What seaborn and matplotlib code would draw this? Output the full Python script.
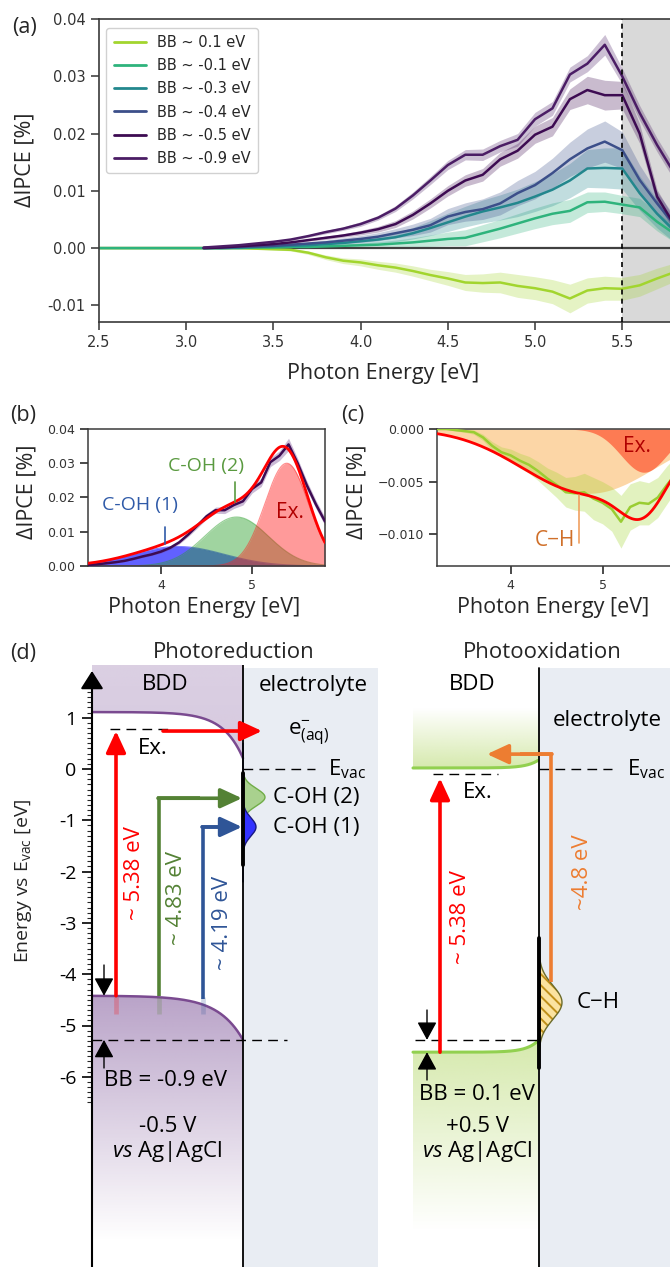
import numpy as np
import pandas as pd
import matplotlib
matplotlib.use("Agg")
import matplotlib.pyplot as plt
import seaborn as sns
from matplotlib.colors import to_rgb
from matplotlib.lines import Line2D
from matplotlib.ticker import FixedLocator, FixedFormatter

nan = np.nan

# ---------------- (a) measured dIPCE spectra ----------------
photon_energy = [2.5, 2.6, 2.7, 2.8, 2.9, 3.0, 3.1, 3.2, 3.3, 3.4, 3.5, 3.6, 3.7, 3.8,
                 3.9, 4.0, 4.1, 4.2, 4.3, 4.4, 4.5, 4.6, 4.7, 4.8, 4.9, 5.0, 5.1,
                 5.2, 5.3, 5.4, 5.5, 5.6, 5.7, 5.8]

bb_p01 = [0, 0, 0, 0, 0, 0, 0, 0, 0,
          -0.0001, -0.0002, -0.0003, -0.0008, -0.0016, -0.0022, -0.0025, -0.0030, -0.0034,
          -0.0040, -0.0047, -0.0053, -0.0060, -0.0061, -0.0060, -0.0066, -0.0070, -0.0076,
          -0.0088, -0.0074, -0.0070, -0.0071, -0.0065, -0.0053, -0.0042]
err_p01 = [0, 0, 0, 0, 0, 0, 0, 0, 0,
           0.0001, 0.0001, 0.0002, 0.0003, 0.0004, 0.0005, 0.0006, 0.0007, 0.0008,
           0.0009, 0.0010, 0.0012, 0.0014, 0.0016, 0.0018, 0.0020, 0.0020, 0.0021,
           0.0025, 0.0022, 0.0021, 0.0020, 0.0019, 0.0018, 0.0016]

bb_m01 = [0, 0, 0, 0, 0, 0, 0, 0, 0,
          0.0001, 0.0001, 0.0002, 0.0002, 0.0003, 0.0004, 0.0005, 0.0006, 0.0008,
          0.0010, 0.0013, 0.0016, 0.0018, 0.0026, 0.0034, 0.0043, 0.0052, 0.0060,
          0.0065, 0.0080, 0.0081, 0.0076, 0.0071, 0.0046, 0.0025]
err_m01 = [0, 0, 0, 0, 0, 0, 0, 0, 0,
           0.0001, 0.0001, 0.0001, 0.0002, 0.0002, 0.0003, 0.0004, 0.0005, 0.0006,
           0.0008, 0.0010, 0.0012, 0.0014, 0.0015, 0.0016, 0.0017, 0.0018, 0.0019,
           0.0020, 0.0018, 0.0017, 0.0016, 0.0016, 0.0016, 0.0015]

bb_m03 = [nan, nan, nan, nan, nan, nan,
          0.0000, 0.0000, 0.0001, 0.0002, 0.0003, 0.0004, 0.0005, 0.0007, 0.0009, 0.0012,
          0.0015, 0.0019, 0.0026, 0.0035, 0.0045, 0.0055, 0.0064, 0.0071, 0.0079, 0.0090,
          0.0102, 0.0118, 0.0139, 0.0140, 0.0139, 0.0096, 0.0060, 0.0030]
err_m03 = [nan, nan, nan, nan, nan, nan,
           0, 0, 0.0001, 0.0001, 0.0001, 0.0002, 0.0002, 0.0003, 0.0004, 0.0005,
           0.0006, 0.0008, 0.0010, 0.0013, 0.0016, 0.0018, 0.0020, 0.0022, 0.0024, 0.0026,
           0.0028, 0.0030, 0.0033, 0.0035, 0.0036, 0.0030, 0.0025, 0.0020]

bb_m04 = [nan, nan, nan, nan, nan, nan,
          0.0000, 0.0001, 0.0002, 0.0003, 0.0004, 0.0006, 0.0008, 0.0010, 0.0013, 0.0016,
          0.0020, 0.0026, 0.0032, 0.0040, 0.0055, 0.0063, 0.0068, 0.0078, 0.0096, 0.0110,
          0.0131, 0.0155, 0.0174, 0.0186, 0.0171, 0.0119, 0.0078, 0.0040]
err_m04 = [nan, nan, nan, nan, nan, nan,
           0, 0.0001, 0.0001, 0.0001, 0.0002, 0.0002, 0.0003, 0.0004, 0.0005, 0.0006,
           0.0007, 0.0008, 0.0010, 0.0012, 0.0014, 0.0016, 0.0018, 0.0020, 0.0022, 0.0024,
           0.0026, 0.0030, 0.0034, 0.0036, 0.0032, 0.0026, 0.0020, 0.0016]

bb_m05 = [nan, nan, nan, nan, nan, nan,
          0.0000, 0.0001, 0.0003, 0.0005, 0.0007, 0.0010, 0.0014, 0.0018, 0.0022, 0.0027,
          0.0033, 0.0042, 0.0058, 0.0078, 0.0100, 0.0118, 0.0128, 0.0155, 0.0170, 0.0198,
          0.0212, 0.0260, 0.0276, 0.0267, 0.0267, 0.0200, 0.0090, 0.0040]
err_m05 = [nan, nan, nan, nan, nan, nan,
           0, 0, 0.0001, 0.0001, 0.0001, 0.0002, 0.0002, 0.0003, 0.0003, 0.0004,
           0.0005, 0.0006, 0.0007, 0.0008, 0.0009, 0.0010, 0.0011, 0.0012, 0.0013, 0.0015,
           0.0016, 0.0018, 0.0024, 0.0026, 0.0024, 0.0017, 0.0012, 0.0010]

bb_m09 = [nan, nan, nan, nan, nan, nan,
          0.0001, 0.0003, 0.0005, 0.0008, 0.0011, 0.0015, 0.0021, 0.0028, 0.0034, 0.0042,
          0.0053, 0.0069, 0.0092, 0.0118, 0.0145, 0.0163, 0.0163, 0.0178, 0.0189, 0.0225,
          0.0244, 0.0303, 0.0322, 0.0355, 0.0300, 0.0236, 0.0180, 0.0130]
err_m09 = [nan, nan, nan, nan, nan, nan,
           0, 0, 0, 0.0001, 0.0001, 0.0002, 0.0002, 0.0003, 0.0003, 0.0004,
           0.0004, 0.0005, 0.0006, 0.0007, 0.0008, 0.0009, 0.0010, 0.0010, 0.0011, 0.0012,
           0.0012, 0.0013, 0.0014, 0.0018, 0.0014, 0.0013, 0.0012, 0.0012]

series_labels = ["BB ~ 0.1 eV", "BB ~ -0.1 eV", "BB ~ -0.3 eV",
                 "BB ~ -0.4 eV", "BB ~ -0.5 eV", "BB ~ -0.9 eV"]
series_colors = ["#a2d52e", "#2eb37c", "#23878d", "#3c4f8a", "#3d0b52", "#4b1d65"]
series_values = [bb_p01, bb_m01, bb_m03, bb_m04, bb_m05, bb_m09]
series_errors = [err_p01, err_m01, err_m03, err_m04, err_m05, err_m09]

# ---------------- (b), (c) Gaussian fit components ----------------
fit_b_labels = ["C-OH (1)", "C-OH (2)", "Ex."]
fit_b_centers = [4.19, 4.83, 5.38]
fit_b_amps = [0.0057, 0.0143, 0.0300]
fit_b_widths = [0.50, 0.35, 0.24]
fit_b_colors = ["#0000ff", "#2ca02c", "#ff2020"]

fit_c_labels = ["C\u2212H", "Ex."]
fit_c_centers = [4.85, 5.45]
fit_c_amps = [-0.0061, -0.0041]
fit_c_widths = [0.72, 0.25]
fit_c_colors = ["#f9a63a", "#ff3010"]

# ---------------- (d) energy levels [eV vs Evac] ----------------
red_cb, red_cb_surf, red_vb, red_vb_surf = 1.11, 0.21, -4.42, -5.28
red_exciton = 0.78
red_arrow_red = [-4.42, 0.74]        # 5.38 eV excitation
red_arrow_green = [-4.42, -0.57]     # 4.83 eV -> C-OH (2)
red_arrow_blue = [-4.48, -1.13]      # 4.19 eV -> C-OH (1)
red_state_centers = [-0.55, -1.13]
red_state_widths = [0.17, 0.18]
red_state_amps = [22, 13]
ox_cb, ox_cb_surf, ox_vb, ox_vb_surf = 0.02, 0.18, -5.52, -5.28
ox_exciton = -0.10
ox_arrow_red = [-5.52, -0.18]
ox_arrow_orange = [-4.15, 0.29]
ox_state_center, ox_state_width, ox_state_amp = -4.55, 0.33, 23

# ---------------- style ----------------
sns.set_theme(style="ticks")
plt.rcParams['font.family'] = ['Open Sans', 'DejaVu Sans']
plt.rcParams['mathtext.fontset'] = 'custom'
plt.rcParams['mathtext.rm'] = 'Open Sans'
plt.rcParams['mathtext.it'] = 'Open Sans:italic'
plt.rcParams['axes.unicode_minus'] = True

W, H = 670, 1267
fig = plt.figure(figsize=(W / 100, H / 100), dpi=100)
fig.patch.set_facecolor('white')


def rect(l, t, r, b):
    return [l / W, 1 - b / H, (r - l) / W, (b - t) / H]


LBL = 15.5
spine_c = '#3a3a3a'

# ================= (a) =================
ax = fig.add_axes(rect(99, 19, 670, 322))
E = np.array(photon_energy)
rows = []
for lab, vals in zip(series_labels, series_values):
    for e, v in zip(photon_energy, vals):
        rows.append((lab, e, v))
df = pd.DataFrame(rows, columns=['series', 'E', 'v'])
ax.axvspan(5.5, 6.0, color='#d9d9d9', lw=0, zorder=0)
for c, vals, errs in zip(series_colors, series_values, series_errors):
    v = np.array(vals, float); er = np.array(errs, float)
    ax.fill_between(E, v - er, v + er, color=c, alpha=0.28, lw=0, zorder=1.5)
ax.axhline(0, color='#404040', lw=1.6, zorder=1.7)
sns.lineplot(data=df, x='E', y='v', hue='series', hue_order=series_labels,
             palette=dict(zip(series_labels, series_colors)), ax=ax, lw=1.8,
             legend=False, errorbar=None, zorder=2)
ax.axvline(5.5, color='black', lw=1.2, ls=(0, (3, 2.5)), zorder=3)
ax.set_xlim(2.5, 5.774)
ax.set_ylim(-0.0129, 0.0400)
ax.set_xticks([2.5, 3.0, 3.5, 4.0, 4.5, 5.0, 5.5])
ax.set_yticks([-0.01, 0.0, 0.01, 0.02, 0.03, 0.04])
ax.set_yticklabels(['-0.01', '0.00', '0.01', '0.02', '0.03', '0.04'])
ax.set_xticklabels(['2.5', '3.0', '3.5', '4.0', '4.5', '5.0', '5.5'])
ax.tick_params(labelsize=10.5, labelfontfamily='DejaVu Sans', colors='#333333', width=1.1)
ax.spines['right'].set_visible(False)
for s in ['left', 'top', 'bottom']:
    ax.spines[s].set_color(spine_c); ax.spines[s].set_linewidth(1.2)
ax.set_xlabel('Photon Energy [eV]', fontsize=LBL)
ax.set_ylabel('\u0394IPCE [%]', fontsize=LBL)
ax.xaxis.set_label_coords(0.497, -0.135)
ax.yaxis.set_label_coords(-0.112, 0.535)
handles = [Line2D([0], [0], color=c, lw=2) for c in series_colors]
leg = ax.legend(handles, series_labels, loc='upper left', frameon=True, fancybox=True,
                prop={'family': 'DejaVu Sans', 'size': 10.5}, labelspacing=0.56,
                handlelength=2.2, borderpad=0.5, framealpha=0.9, edgecolor='#cccccc',
                bbox_to_anchor=(0.0, 0.995))

# ================= (b) =================
axb = fig.add_axes(rect(88, 429, 325, 566))
xg = np.linspace(3.2, 5.8, 400)
comps = []
for c0, a0, w0, col in zip(fit_b_centers, fit_b_amps, fit_b_widths, fit_b_colors):
    g = a0 * np.exp(-(xg - c0) ** 2 / (2 * w0 ** 2))
    comps.append(g)
    axb.fill_between(xg, 0, g, color=col, alpha=0.45 if col != "#0000ff" else 0.62, lw=0, zorder=1)
    axb.plot(xg, g, color=col, alpha=0.5, lw=0.8, zorder=1)
v9 = np.array(bb_m09, float); e9 = np.array(err_m09, float)
axb.fill_between(E, v9 - e9, v9 + e9, color='#6a3d8a', alpha=0.35, lw=0, zorder=2)
sns.lineplot(x=E, y=v9, ax=axb, color='#3d0b52', lw=1.8, zorder=3)
sns.lineplot(x=xg, y=np.sum(comps, axis=0), ax=axb, color='#ff0000', lw=2.0, zorder=4)
axb.set_xlim(3.2, 5.8); axb.set_ylim(0, 0.04)
axb.set_xticks([4, 5]); axb.set_yticks([0, 0.01, 0.02, 0.03, 0.04])
axb.set_yticklabels(['0.00', '0.01', '0.02', '0.03', '0.04'])
axb.tick_params(labelsize=9, labelfontfamily='DejaVu Sans', colors='#333333')
for s in axb.spines.values():
    s.set_color(spine_c); s.set_linewidth(1.1)
axb.set_xlabel('Photon Energy [eV]', fontsize=LBL)
axb.set_ylabel('\u0394IPCE [%]', fontsize=LBL)
axb.xaxis.set_label_coords(0.49, -0.226)
axb.yaxis.set_label_coords(-0.215, 0.54)
axb.plot([4.04, 4.04], [0.0065, 0.0115], color='#2f5aa8', lw=1.2, zorder=5)
axb.text(3.77, 0.0178, fit_b_labels[0], color='#2f5aa8', ha='center', va='center', fontsize=14)
axb.plot([4.81, 4.81], [0.0186, 0.0245], color='#5a9a40', lw=1.2, zorder=5)
axb.text(4.50, 0.0293, fit_b_labels[1], color='#5a9a40', ha='center', va='center', fontsize=14)
axb.text(5.42, 0.0155, fit_b_labels[2], color='#b00000', ha='center', va='center', fontsize=15)

# ================= (c) =================
axc = fig.add_axes(rect(437, 429, 670, 566))
ccomps = []
for c0, a0, w0, col in zip(fit_c_centers, fit_c_amps, fit_c_widths, fit_c_colors):
    g = a0 * np.exp(-(xg - c0) ** 2 / (2 * w0 ** 2))
    ccomps.append(g)
    axc.fill_between(xg, 0, g, color=col, alpha=0.45 if col == "#f9a63a" else 0.55, lw=0, zorder=1)
v1 = np.array(bb_p01, float); e1 = np.array(err_p01, float)
axc.fill_between(E, v1 - e1, v1 + e1, color='#a2d52e', alpha=0.3, lw=0, zorder=2)
sns.lineplot(x=E, y=v1, ax=axc, color='#9acd32', lw=1.8, zorder=3)
sns.lineplot(x=xg, y=np.sum(ccomps, axis=0), ax=axc, color='#ff0000', lw=2.0, zorder=4)
axc.set_xlim(3.2, 5.733); axc.set_ylim(-0.0130, 0.0)
axc.set_xticks([4, 5]); axc.set_yticks([-0.010, -0.005, 0.0])
axc.set_yticklabels(['\u22120.010', '\u22120.005', '0.000'])
axc.tick_params(labelsize=9, labelfontfamily='DejaVu Sans', colors='#333333')
axc.spines['right'].set_visible(False)
for s in ['left', 'top', 'bottom']:
    axc.spines[s].set_color(spine_c); axc.spines[s].set_linewidth(1.1)
axc.set_xlabel('Photon Energy [eV]', fontsize=LBL)
axc.set_ylabel('\u0394IPCE [%]', fontsize=LBL)
axc.xaxis.set_label_coords(0.498, -0.226)
axc.yaxis.set_label_coords(-0.30, 0.54)
axc.plot([4.74, 4.74], [-0.0063, -0.0108], color='#f0a060', lw=1.2, zorder=5)
axc.text(4.48, -0.0106, fit_c_labels[0], color='#d0702a', ha='center', va='center', fontsize=15)
axc.text(5.37, -0.0017, fit_c_labels[1], color='#b00000', ha='center', va='center', fontsize=15)

# ================= (d) schematic =================
Y0, SC = 769.0, 51.3   # pixel row of Evac, pixels per eV


def ev(py):
    return (Y0 - py) / SC


E_TOP, E_BOT = ev(665), ev(1267)
axd = fig.add_axes(rect(92, 665, 670, 1267))
axd.set_xlim(92, 670); axd.set_ylim(E_BOT, E_TOP)
for s in axd.spines.values():
    s.set_visible(False)
axd.set_facecolor('none')

XA, XIL, XELL, XB2, XIR, XE = 92, 243, 378, 413, 539, 670

# electrolyte backgrounds
axd.fill_between([XIL, XELL], E_BOT, ev(668), color='#e9edf3', lw=0, zorder=0)
axd.fill_between([XIR, XE], E_BOT, ev(668), color='#e9edf3', lw=0, zorder=0)


def grad_fill(x, lower, upper, color, a_top, a_bot, e_top, e_bot, z=1):
    poly = axd.fill_between(x, lower, upper, facecolor='none', edgecolor='none', zorder=z)
    n = 256
    rgba = np.zeros((n, 2, 4))
    rgba[..., :3] = to_rgb(color)
    rgba[..., 3] = np.linspace(a_top, a_bot, n)[:, None]
    im = axd.imshow(rgba, extent=[x[0], x[-1], e_bot, e_top], origin='upper',
                    aspect='auto', zorder=z, interpolation='bilinear')
    im.set_clip_path(poly.get_paths()[0], transform=axd.transData)


# left (photoreduction) bands
xl = np.linspace(XA, XIL, 300)
cb_l = red_cb - (red_cb - red_cb_surf) * np.exp((xl - XIL) / 20.0)
vb_l = red_vb - (red_vb - red_vb_surf) * np.exp((xl - XIL) / 25.0)
grad_fill(xl, cb_l, np.full_like(xl, E_TOP), '#8e6aa6', 0.32, 0.36, E_TOP, red_cb_surf)
grad_fill(xl, np.full_like(xl, E_BOT), vb_l, '#8e6aa6', 0.62, 0.0, red_vb, -9.2)
axd.plot(xl, cb_l, color='#7a4a90', lw=1.8, zorder=3)
axd.plot(xl, vb_l, color='#7a4a90', lw=1.8, zorder=3)

# right (photooxidation) bands
xr = np.linspace(XB2, XIR - 1, 300)
cb_r = ox_cb + (ox_cb_surf - ox_cb) * np.exp((xr - XIR) / 12.0)
vb_r = ox_vb + (ox_vb_surf - ox_vb) * np.exp((xr - XIR) / 12.0)
grad_fill(xr, cb_r, np.full_like(xr, ev(708)), '#b4d86a', 0.0, 0.55, ev(708), ox_cb)
grad_fill(xr, np.full_like(xr, E_BOT), vb_r, '#b4d86a', 0.55, 0.0, ox_vb_surf, -9.0)
axd.plot(xr, cb_r, color='#92d050', lw=2.2, zorder=3)
axd.plot(xr, vb_r, color='#92d050', lw=2.2, zorder=3)

# interface lines
axd.plot([XIL, XIL], [E_BOT, E_TOP], color='black', lw=1.3, zorder=4)
axd.plot([XIR, XIR], [E_BOT, ev(668)], color='black', lw=1.3, zorder=4)
axd.plot([XIL, XIL], [-0.08, -1.87], color='black', lw=2.8, zorder=4)
axd.plot([XIR, XIR], [-3.3, -5.83], color='black', lw=2.8, zorder=4)

# surface states
Es = np.linspace(-2.2, 0.5, 400)
for c0, w0, a0, fc, ec in zip(red_state_centers, red_state_widths, red_state_amps,
                              ['#a9d18e', '#3333ff'], ['#70ad47', '#1a1a80']):
    prof = XIL + a0 * np.exp(-(Es - c0) ** 2 / (2 * w0 ** 2))
    axd.fill_betweenx(Es, XIL, prof, facecolor=fc, edgecolor='none', zorder=3)
    axd.plot(prof, Es, color=ec, lw=1.0, zorder=3)
Eh = np.linspace(-5.6, -3.5, 400)
prof = XIR + ox_state_amp * np.exp(-(Eh - ox_state_center) ** 2 / (2 * ox_state_width ** 2))
plt.rcParams['hatch.linewidth'] = 1.4
axd.fill_betweenx(Eh, XIR, prof, facecolor='#fbe3a0', edgecolor='#c0901a', hatch='\\\\\\', lw=0, zorder=3)
axd.plot(prof, Eh, color='#6b6b2a', lw=1.0, zorder=3)

# dashed reference lines
dash = dict(color='black', lw=1.0, ls=(0, (7, 4.5)), zorder=4)
axd.plot([110, 173], [red_exciton, red_exciton], **dash)
axd.plot([XIL, 315], [0, 0], **dash)
axd.plot([XA, 287], [red_vb_surf, red_vb_surf], **dash)
axd.plot([433, 498], [ox_exciton, ox_exciton], **dash)
axd.plot([XIR, 612], [0, 0], **dash)
axd.plot([415, XIR], [ox_vb_surf, ox_vb_surf], **dash)


def arrow(x0, y0, x1, y1, color, lw=2.6, hl=0.65, hw=0.3, ms=20, z=6):
    axd.annotate('', xy=(x1, y1), xytext=(x0, y0),
                 arrowprops=dict(arrowstyle=f'-|>,head_length={hl},head_width={hw}',
                                 color=color, lw=lw, shrinkA=0, shrinkB=0,
                                 mutation_scale=ms), zorder=z)


# faded arrow tails inside valence band
for xx, col in [(116, '#ff0000'), (159, '#548235'), (203, '#2f5597')]:
    axd.plot([xx, xx], [red_vb - 0.02, red_vb - 0.35], color=col, lw=3.4, alpha=0.22,
             solid_capstyle='butt', zorder=4)

# left arrows
arrow(116, red_arrow_red[0], 116, red_arrow_red[1], '#ff0000')
arrow(163, 0.74, 262, 0.74, '#ff0000')
axd.plot([159, 159, 200], [red_arrow_green[0], red_arrow_green[1], red_arrow_green[1]],
         color='#548235', lw=2.6, solid_joinstyle='miter', solid_capstyle='butt', zorder=6)
arrow(158, red_arrow_green[1], 242, red_arrow_green[1], '#548235')
axd.plot([203, 203, 220], [red_arrow_blue[0], red_arrow_blue[1], red_arrow_blue[1]],
         color='#2f5597', lw=2.6, solid_joinstyle='miter', solid_capstyle='butt', zorder=6)
arrow(202, red_arrow_blue[1], 242, red_arrow_blue[1], '#2f5597')
# right arrows
arrow(440, ox_arrow_red[0], 440, ox_arrow_red[1], '#ff0000')
axd.plot([551, 551, 520], [ox_arrow_orange[0], ox_arrow_orange[1], ox_arrow_orange[1]],
         color='#ed7d31', lw=2.6, solid_joinstyle='miter', solid_capstyle='butt', zorder=6)
arrow(552, ox_arrow_orange[1], 487, ox_arrow_orange[1], '#ed7d31')

# band bending markers
arrow(104, ev(965), 104, red_vb, 'black', lw=1.0, hl=0.55, hw=0.3)
arrow(104, ev(1068), 104, red_vb_surf, 'black', lw=1.0, hl=0.55, hw=0.3)
arrow(427, ev(1010), 427, ox_vb_surf, 'black', lw=1.0, hl=0.55, hw=0.3)
arrow(427, ev(1080), 427, ox_vb, 'black', lw=1.0, hl=0.55, hw=0.3)

# energy axis
arrow(XA, E_BOT, XA, ev(671), 'black', lw=1.5, hl=0.55, hw=0.35)
axd.yaxis.set_major_locator(FixedLocator([1, 0, -1, -2, -3, -4, -5, -6]))
axd.yaxis.set_major_formatter(FixedFormatter(['1', '0', '-1', '-2', '-3', '-4', '-5', '-6']))
axd.yaxis.set_minor_locator(FixedLocator(np.round(np.arange(-6.5, 1.75, 0.1), 2)))
axd.tick_params(axis='y', which='major', length=7, width=1.2, labelsize=14, pad=4, colors='black')
axd.tick_params(axis='y', which='minor', length=3.5, width=0.8)
axd.tick_params(axis='x', bottom=False, labelbottom=False)
axd.set_ylabel(r'Energy vs E$_{\mathregular{vac}}$ [eV]', fontsize=14)
axd.yaxis.set_label_coords(-0.100, 0.641)

T = 16
texts = [
    (165, ev(684), 'BDD', 'black', 'center', 0),
    (313, ev(685), 'electrolyte', 'black', 'center', 0),
    (288, ev(733), r'e$^{\mathregular{-}}_{\mathregular{(aq)}}$', 'black', 'left', 0),
    (138, ev(748), 'Ex.', 'black', 'left', 0),
    (328, 0.0, r'E$_{\mathregular{vac}}$', 'black', 'left', 0),
    (273, ev(798), 'C-OH (2)', 'black', 'left', 0),
    (273, ev(827), 'C-OH (1)', 'black', 'left', 0),
    (135, ev(873), '~ 5.38 eV', '#ff0000', 'center', 90),
    (177, ev(898), '~ 4.83 eV', '#548235', 'center', 90),
    (222, ev(923), '~ 4.19 eV', '#2f5597', 'center', 90),
    (165, ev(1080), 'BB = -0.9 eV', 'black', 'center', 0),
    (168, ev(1127), '-0.5 V', 'black', 'center', 0),
    (167, ev(1152), r'$\mathit{vs}$ Ag|AgCl', 'black', 'center', 0),
    (472, ev(684), 'BDD', 'black', 'center', 0),
    (607, ev(720), 'electrolyte', 'black', 'center', 0),
    (463, ev(793), 'Ex.', 'black', 'left', 0),
    (627, 0.0, r'E$_{\mathregular{vac}}$', 'black', 'left', 0),
    (460, ev(917), '~ 5.38 eV', '#ff0000', 'center', 90),
    (582, ev(872), '~4.8 eV', '#ed7d31', 'center', 90),
    (577, ev(1003), 'C\u2212H', 'black', 'left', 0),
    (477, ev(1095), 'BB = 0.1 eV', 'black', 'center', 0),
    (477, ev(1127), '+0.5 V', 'black', 'center', 0),
    (477, ev(1152), r'$\mathit{vs}$ Ag|AgCl', 'black', 'center', 0),
]
for x, y, s, col, ha, rot in texts:
    axd.text(x, y, s, color=col, ha=ha, va='center', rotation=rot, fontsize=T, zorder=7)

# panel titles / letters
fig.text(12 / W, 1 - 27 / H, '(a)', fontsize=LBL, va='center', ha='left')
fig.text(10 / W, 1 - 416 / H, '(b)', fontsize=LBL, va='center', ha='left')
fig.text(341 / W, 1 - 416 / H, '(c)', fontsize=LBL, va='center', ha='left')
fig.text(10 / W, 1 - 653 / H, '(d)', fontsize=LBL, va='center', ha='left')
fig.text(234 / W, 1 - 653 / H, 'Photoreduction', fontsize=T, va='center', ha='center')
fig.text(542 / W, 1 - 653 / H, 'Photooxidation', fontsize=T, va='center', ha='center')

fig.savefig('out.png', dpi=100, facecolor='white')
